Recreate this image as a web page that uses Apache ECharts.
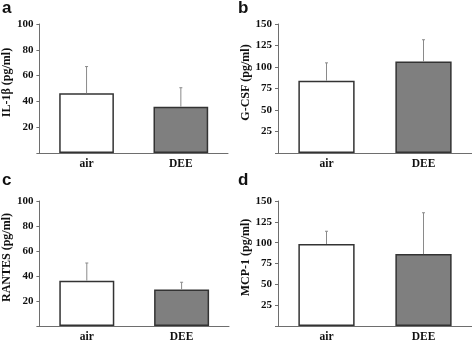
<!DOCTYPE html>
<html>
<head>
<meta charset="utf-8">
<script src="https://cdn.jsdelivr.net/npm/echarts@6/dist/echarts.min.js"></script>
<style>
  html, body { margin: 0; padding: 0; background: #fff; }
  #chart { width: 472px; height: 343px; }
</style>
</head>
<body>
<div id="chart"></div>
<script>
const categories = ["air", "DEE"];

// means and upper error bar ends (pg/ml)
const il1bMean = [46.3, 35.9];
const il1bTop = [67, 50.6];
const gcsfMean = [84.1, 106.3];
const gcsfTop = [104.8, 131.7];
const rantesMean = [36.3, 29.3];
const rantesTop = [50.4, 35];
const mcp1Mean = [98.4, 86.3];
const mcp1Top = [113.7, 135.9];

const panels = [
  { letter: "a", name: "IL-1β (pg/ml)", mean: il1bMean, top: il1bTop, max: 100, step: 20,
    grid: { left: 39, top: 24, width: 189, height: 129 } },
  { letter: "b", name: "G-CSF (pg/ml)", mean: gcsfMean, top: gcsfTop, max: 150, step: 25,
    grid: { left: 278, top: 24, width: 194, height: 129 } },
  { letter: "c", name: "RANTES (pg/ml)", mean: rantesMean, top: rantesTop, max: 100, step: 20,
    grid: { left: 37, top: 201, width: 192, height: 128 } },
  { letter: "d", name: "MCP-1 (pg/ml)", mean: mcp1Mean, top: mcp1Top, max: 150, step: 25,
    grid: { left: 278, top: 201, width: 194, height: 128 } },
];

const serif = "'Liberation Serif', 'Times New Roman', serif";
const axisColor = "#6e6e6e";
const barColors = ["#ffffff", "#7f7f7f"];

const chart = echarts.init(document.getElementById("chart"));

function errorBar(params, api) {
  const x = api.value(0);
  const p0 = api.coord([x, api.value(1)]);
  const p1 = api.coord([x, api.value(2)]);
  const style = { stroke: "#8a8a8a", lineWidth: 1 };
  return {
    type: "group",
    children: [
      { type: "line", shape: { x1: p0[0], y1: p0[1], x2: p1[0], y2: p1[1] }, style },
      { type: "line", shape: { x1: p1[0] - 1.5, y1: p1[1], x2: p1[0] + 1.5, y2: p1[1] }, style },
    ],
  };
}

const option = {
  animation: false,
  backgroundColor: "#fff",
  grid: panels.map((p) => Object.assign({ containLabel: false }, p.grid)),
  xAxis: panels.map((p, i) => ({
    type: "category",
    gridIndex: i,
    data: categories,
    axisLine: { lineStyle: { color: axisColor, width: 1 } },
    axisTick: { show: false },
    axisLabel: { fontFamily: serif, fontWeight: "bold", fontSize: 11.5, color: "#111", margin: 5 },
  })),
  yAxis: panels.map((p, i) => ({
    type: "value",
    gridIndex: i,
    min: 0,
    max: p.max,
    interval: p.step,
    name: p.name,
    nameLocation: "middle",
    nameGap: 26,
    nameTextStyle: { fontFamily: serif, fontWeight: "bold", fontSize: 12, color: "#111", padding: [0, 0, 0, 12] },
    splitLine: { show: false },
    axisLine: { show: true, lineStyle: { color: axisColor, width: 1 } },
    axisTick: { show: true, length: 3, lineStyle: { color: axisColor } },
    axisLabel: {
      fontFamily: serif, fontWeight: "bold", fontSize: 11, color: "#111", margin: 6,
      formatter: (v) => (v === 0 ? "" : String(v)),
    },
  })),
  series: panels.flatMap((p, i) => [
    {
      type: "bar",
      xAxisIndex: i,
      yAxisIndex: i,
      barWidth: "58%",
      data: p.mean.map((v, j) => ({
        value: v,
        itemStyle: { color: barColors[j], borderColor: "#333", borderWidth: 1.5 },
      })),
    },
    {
      type: "custom",
      xAxisIndex: i,
      yAxisIndex: i,
      z: 3,
      renderItem: errorBar,
      data: p.mean.map((v, j) => [j, v, p.top[j]]),
    },
  ]),
  graphic: panels.map((p) => ({
    type: "text",
    left: p.grid.left > 200 ? 238 : 2,
    top: p.grid.top > 100 ? 172 : 0,
    style: { text: p.letter, font: "bold 17px 'Liberation Sans', Arial, sans-serif", fill: "#111" },
  })),
};

chart.setOption(option);
</script>
</body>
</html>
